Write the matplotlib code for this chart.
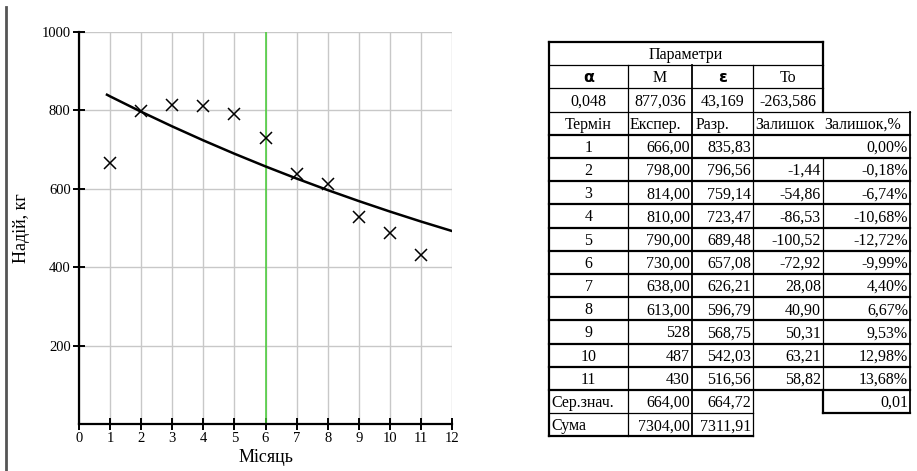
import matplotlib
matplotlib.use("Agg")
import matplotlib.pyplot as plt

plt.rcParams['font.family'] = ['Liberation Serif', 'DejaVu Serif']

# chart data
months = [1, 2, 3, 4, 5, 6, 7, 8, 9, 10, 11]
milk = [666, 798, 814, 810, 790, 730, 638, 613, 528, 487, 430]
curve_x = [0.9, 1, 2, 3, 4, 5, 6, 7, 8, 9, 10, 11, 12]
curve_y = [840, 835.83, 796.56, 759.14, 723.47, 689.48, 657.08, 626.21,
           596.79, 568.75, 542.03, 516.56, 492.3]
x_ticks = list(range(0, 13))
y_ticks = [200, 400, 600, 800, 1000]

# table data
params_head = ['α', 'M', 'ε', 'To']
params_val = ['0,048', '877,036', '43,169', '-263,586']
col_head = ['Термін', 'Експер.', 'Разр.', 'Залишок', 'Залишок,%']
terms = ['1', '2', '3', '4', '5', '6', '7', '8', '9', '10', '11']
exper = ['666,00', '798,00', '814,00', '810,00', '790,00', '730,00',
         '638,00', '613,00', '528', '487', '430']
razr = ['835,83', '796,56', '759,14', '723,47', '689,48', '657,08',
        '626,21', '596,79', '568,75', '542,03', '516,56']
resid = ['', '-1,44', '-54,86', '-86,53', '-100,52', '-72,92',
         '28,08', '40,90', '50,31', '63,21', '58,82']
resid_pct = ['0,00%', '-0,18%', '-6,74%', '-10,68%', '-12,72%', '-9,99%',
             '4,40%', '6,67%', '9,53%', '12,98%', '13,68%']
mean_row = ['Сер.знач.', '664,00', '664,72', '', '0,01']
sum_row = ['Сума', '7304,00', '7311,91']

W, H = 917, 471
fig = plt.figure(figsize=(W / 100, H / 100), dpi=100)

# --- chart
L, R, T, B = 79, 452, 32, 424
ax = fig.add_axes([L / W, 1 - B / H, (R - L) / W, (B - T) / H])
ax.set_xlim(0, 12)
ax.set_ylim(0, 1000)
ax.set_xticks(x_ticks)
ax.set_yticks(y_ticks)
ax.grid(True, color='#c8c8c8', lw=1)
ax.set_axisbelow(True)
for s in ['top', 'right']:
    ax.spines[s].set_visible(False)
for s in ['left', 'bottom']:
    ax.spines[s].set_linewidth(1.6)
ax.tick_params(direction='inout', length=8, width=1.4, labelsize=10.5, pad=2)
ax.axvline(6, color='#44cc33', lw=1.1, zorder=2)
ax.plot(curve_x, curve_y, color='black', lw=1.8, zorder=3)
ax.plot(months, milk, 'x', color='black', ms=9, mew=1.1, zorder=4)
ax.set_xlabel('Місяць', fontsize=13, va='center')
ax.set_ylabel('Надій, кг', fontsize=13, va='center')
ax.xaxis.set_label_coords(0.5, (B - 458) / (B - T))
ax.yaxis.set_label_coords((22 - L) / (R - L), 0.5)

# --- overlay in pixel coordinates for the table
ov = fig.add_axes([0, 0, 1, 1])
ov.set_xlim(0, W)
ov.set_ylim(H, 0)
ov.axis('off')

ov.plot([6, 6], [7, 471], color='#555555', lw=2)

X = [549, 628, 692, 753, 823, 910]
rh = 23.2
Y = [42 + rh * i for i in range(18)]
thick, thin = 1.6, 0.9


def hl(y, x0, x1, lw):
    ov.plot([x0, x1], [y, y], color='black', lw=lw, solid_capstyle='projecting')


def vl(x, y0, y1, lw):
    ov.plot([x, x], [y0, y1], color='black', lw=lw, solid_capstyle='projecting')


hl(Y[0], X[0], X[4], thick)
hl(Y[1], X[0], X[4], thin)
hl(Y[2], X[0], X[4], thin)
hl(Y[3], X[0], X[5], thin)
for i in range(4, 16):
    hl(Y[i], X[0], X[5], thick)
hl(Y[16], X[0], X[3], thin)
hl(Y[16], X[4], X[5], thick)
hl(Y[17], X[0], X[3], thick)

vl(X[0], Y[0], Y[17], thick)
vl(X[4], Y[0], Y[3], thick)
vl(X[1], Y[1], Y[17], thin)
vl(X[2], Y[1], Y[17], 1.3)
vl(X[3], Y[1], Y[17], thin)
vl(X[4], Y[5], Y[15], thin)
vl(X[4], Y[15], Y[16], thick)
vl(X[5], Y[3], Y[16], 1.3)

fs = 11.5


def cell_y(i):
    return Y[i] + rh * 0.56


def txt(x, i, s, ha, **kw):
    ov.text(x, cell_y(i), s, ha=ha, va='center', fontsize=fs, **kw)


txt((X[0] + X[4]) / 2, 0, 'Параметри', 'center')
for j, s in enumerate(params_head):
    if s in ('α', 'ε'):
        ov.text((X[j] + X[j + 1]) / 2, cell_y(1) - 1, s, ha='center', va='center',
                fontsize=fs, fontweight='bold', family=['DejaVu Sans'])
    else:
        txt((X[j] + X[j + 1]) / 2, 1, s, 'center')
for j, s in enumerate(params_val):
    txt((X[j] + X[j + 1]) / 2, 2, s, 'center')

txt((X[0] + X[1]) / 2, 3, col_head[0], 'center')
txt(X[1] + 2, 3, col_head[1], 'left')
txt(X[2] + 4, 3, col_head[2], 'left')
txt(X[3] + 2, 3, col_head[3], 'left')
txt(X[4] + 1, 3, col_head[4], 'left')

for k in range(len(terms)):
    i = 4 + k
    txt((X[0] + X[1]) / 2, i, terms[k], 'center')
    txt(X[2] - 2, i, exper[k], 'right')
    txt(X[3] - 2, i, razr[k], 'right')
    txt(X[4] - 2, i, resid[k], 'right')
    txt(X[5] - 2, i, resid_pct[k], 'right')

txt(X[0] + 2, 15, mean_row[0], 'left')
txt(X[2] - 2, 15, mean_row[1], 'right')
txt(X[3] - 2, 15, mean_row[2], 'right')
txt(X[5] - 2, 15, mean_row[4], 'right')

txt(X[0] + 2, 16, sum_row[0], 'left')
txt(X[2] - 2, 16, sum_row[1], 'right')
txt(X[3] - 2, 16, sum_row[2], 'right')

fig.savefig('out.png', dpi=100)
